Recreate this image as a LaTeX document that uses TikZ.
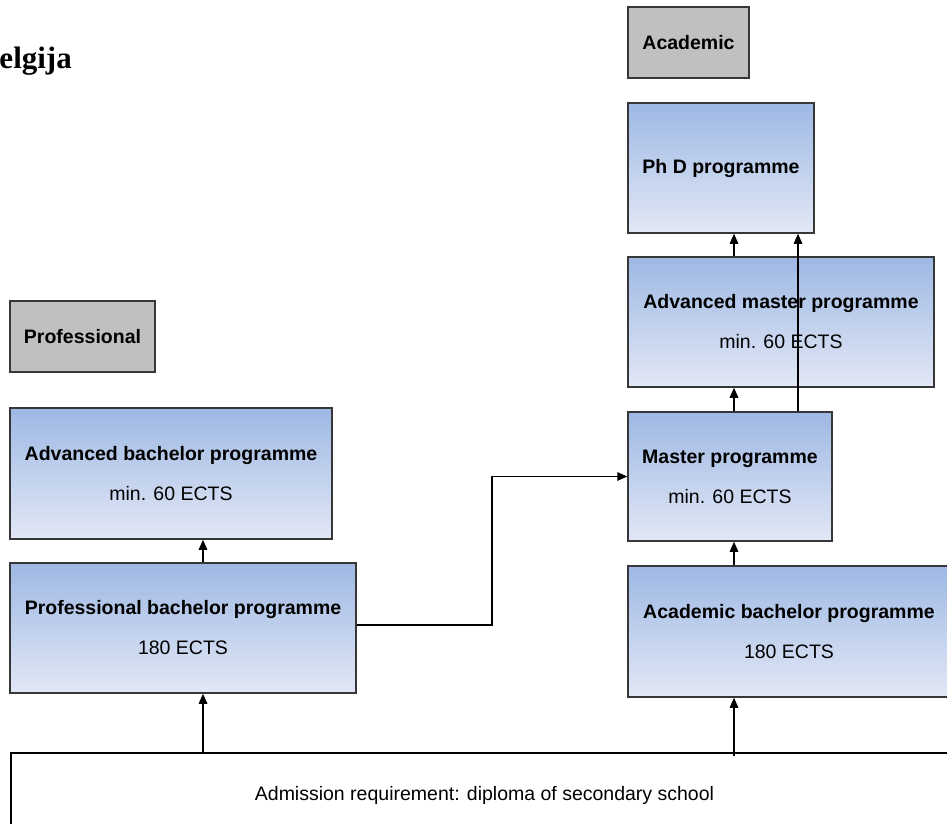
\documentclass[tikz,border=0pt]{standalone}
\usepackage{fontspec}
\setmainfont{Liberation Sans}
\newfontfamily\serifbf{Liberation Serif}
\usetikzlibrary{arrows.meta}
\definecolor{gtop}{RGB}{158,184,228}
\definecolor{gbot}{RGB}{226,232,245}
\definecolor{lblgray}{RGB}{192,192,192}
\definecolor{edgegray}{RGB}{55,55,55}
\tikzset{
  prog/.style={draw=edgegray, line width=1.5pt, top color=gtop, bottom color=gbot,
    inner sep=0pt, align=center, font=\fontsize{19.5}{40}\selectfont},
  lbl/.style={draw=edgegray, line width=1.5pt, fill=lblgray, inner sep=0pt,
    font=\fontsize{19.5}{24}\selectfont\bfseries},
  admbox/.style={draw=black, line width=1.5pt, fill=white, inner sep=0pt,
    font=\fontsize{19.5}{24}\selectfont},
  arr/.style={draw=black, line width=1.5pt, -{Triangle[length=10pt,width=8.5pt]}}
}
\newcommand\twolines[2]{{\bfseries #1}\\#2}
\begin{document}
\begin{tikzpicture}[x=1pt,y=-1pt]
\useasboundingbox (0,0) rectangle (947,823);
% partially visible heading
\node[anchor=base east, inner sep=0pt, font=\serifbf\bfseries\fontsize{31}{31}\selectfont] (title) at (72,68) {Belgija};
% labels
\node[lbl, minimum width=121pt, minimum height=71pt] (acad) at (688.5,42.5) {Academic};
\node[lbl, minimum width=145pt, minimum height=71pt] (prof) at (82.5,336.5) {Professional};
% academic column
\node[prog, minimum width=186pt, minimum height=130pt] (phd) at (721,168) {\bfseries Ph D programme};
\node[prog, minimum width=306pt, minimum height=130pt] (advm) at (781,322) {\twolines{Advanced master programme}{min. 60 ECTS}};
\node[prog, minimum width=204pt, minimum height=129pt] (master) at (730,476.5) {\twolines{Master programme}{min. 60 ECTS}};
\node[prog, minimum width=322pt, minimum height=131pt] (acadb) at (789,631.5) {\twolines{Academic bachelor programme}{180 ECTS}};
% professional column
\node[prog, minimum width=322pt, minimum height=131pt] (advb) at (171,473.5) {\twolines{Advanced bachelor programme}{min. 60 ECTS}};
\node[prog, minimum width=346pt, minimum height=130pt] (profb) at (183,628) {\twolines{Professional bachelor programme}{180 ECTS}};
% admission
\node[admbox, minimum width=947pt, minimum height=84pt] (adm) at (484.5,795) {Admission requirement: diploma of secondary school};
% helper columns
\coordinate (cA) at (734,0);
\coordinate (cB) at (798,0);
\coordinate (cP) at (203,0);
\coordinate (bend) at (492,625);
% connectors
\draw[arr] (advm.north -| cA) -- (phd.south -| cA);
\draw[arr] (master.north -| cA) -- (advm.south -| cA);
\draw[arr] (master.north -| cB) -- (phd.south -| cB);
\draw[arr] (acadb.north -| cA) -- (master.south -| cA);
\draw[arr] ([yshift=-4pt]adm.north -| cA) -- (acadb.south -| cA);
\draw[arr] (adm.north -| cP) -- (profb.south -| cP);
\draw[arr] (profb.north -| cP) -- (advb.south -| cP);
\draw[arr] (profb.east |- bend) -- (bend) |- (master.west);
\end{tikzpicture}
\end{document}
